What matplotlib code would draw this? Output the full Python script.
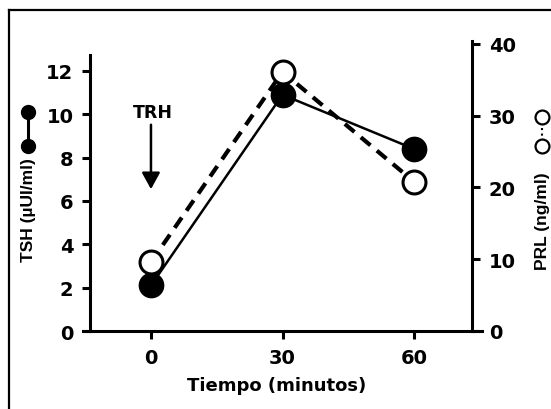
import matplotlib
matplotlib.use("Agg")
import matplotlib.pyplot as plt
from matplotlib.lines import Line2D

plt.rcParams['font.family'] = ['DejaVu Sans']
plt.rcParams['font.weight'] = 'bold'

tiempo = [0, 30, 60]
tsh = [2.1, 10.9, 8.4]
prl = [9.6, 36.1, 20.8]
x_ticks = [0, 30, 60]
tsh_ticks = [0, 2, 4, 6, 8, 10, 12]
prl_ticks = [0, 10, 20, 30, 40]

W, H = 551, 410
fig = plt.figure(figsize=(W / 100, H / 100), dpi=100)
L, R, B, T = 83, 482, 332, 42
ax = fig.add_axes([L / W, 1 - B / H, (R - L) / W, (B - T) / H])
ax2 = ax.twinx()

ax.set_xlim(-15.5, 75.5)
ax.set_ylim(0, 13.38)
ax2.set_ylim(0, 40.4)

for a in (ax, ax2):
    a.patch.set_visible(False)
    for s in a.spines.values():
        s.set_visible(False)
        s.set_linewidth(2.2)

ax.spines['bottom'].set_visible(True)
ax.spines['left'].set_visible(True)
ax.spines['left'].set_position(('axes', (90 - L) / (R - L)))
ax.spines['left'].set_bounds(0, 12.74)
ax2.spines['right'].set_visible(True)
ax2.spines['right'].set_position(('axes', (472 - L) / (R - L)))

ax.set_xticks(x_ticks)
ax.set_yticks(tsh_ticks)
ax2.set_yticks(prl_ticks)
ax.tick_params(axis='both', direction='out', length=6, width=2.2,
               labelsize=14, pad=6)
ax2.tick_params(axis='y', direction='out', length=6, width=2.2,
                labelsize=14, pad=6)
for lab in ax.get_xticklabels() + ax.get_yticklabels() + ax2.get_yticklabels():
    lab.set_fontweight('bold')

ax.plot(tiempo, tsh, color='black', lw=1.8, marker='o', ms=17.5,
        mfc='black', mec='black', zorder=3)
ax2.plot(tiempo, prl, color='black', lw=3, ls=(0, (3, 2)), marker='o',
         ms=16.5, mfc='white', mec='black', mew=2.2, zorder=4)

ax.annotate('', xy=(0, (B - 193) / 21.67), xytext=(0, (B - 123) / 21.67),
            arrowprops=dict(arrowstyle='-|>,head_width=0.55,head_length=1.0',
                            color='black', lw=1.8))
ax.text(0.4, (B - 113) / 21.67, 'TRH', ha='center', va='center',
        fontsize=12.5, fontweight='bold')

fig.text(277 / W, 1 - 386 / H, 'Tiempo (minutos)', ha='center', va='center',
         fontsize=13, fontweight='bold')
fig.text(28 / W, 1 - 210 / H, 'TSH (µUI/ml)', rotation=90, ha='center',
         va='center', fontsize=12.5, fontweight='bold',
         family=['Liberation Sans', 'DejaVu Sans'])
fig.text(542 / W, 1 - 221 / H, 'PRL (ng/ml)', rotation=90, ha='center',
         va='center', fontsize=12.5, fontweight='bold',
         family=['Liberation Sans', 'DejaVu Sans'])

# legend-like symbols beside the axis titles
fig.add_artist(Line2D([28 / W, 28 / W], [1 - 113 / H, 1 - 147 / H],
                      color='black', lw=2.2, marker='o', ms=10,
                      mfc='black', mec='black', transform=fig.transFigure))
fig.add_artist(Line2D([542 / W, 542 / W], [1 - 118 / H, 1 - 147 / H],
                      color='black', lw=1.5, ls=':', marker='o', ms=10,
                      mfc='white', mec='black', mew=1.6,
                      transform=fig.transFigure))

# outer frame
fig.add_artist(Line2D([9 / W, 1.0], [1 - 11 / H, 1 - 11 / H], color='black',
                      lw=1.6, transform=fig.transFigure))
fig.add_artist(Line2D([9 / W, 9 / W], [0.0, 1 - 11 / H], color='black',
                      lw=1.6, transform=fig.transFigure))

fig.savefig('out.png', dpi=100)
